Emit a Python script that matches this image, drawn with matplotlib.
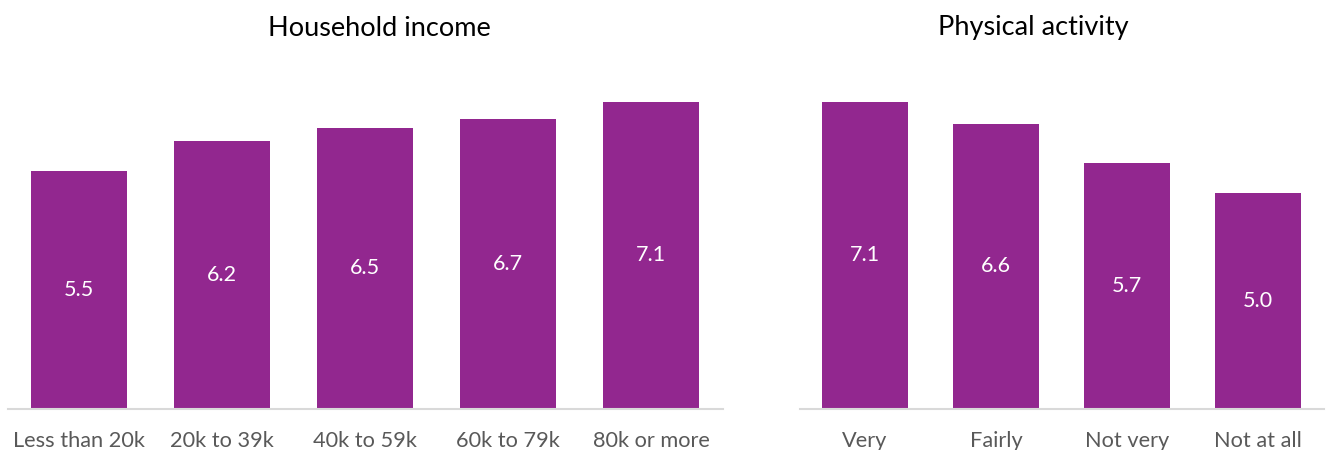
import matplotlib
matplotlib.use("Agg")
import matplotlib.pyplot as plt

income_cats = ["Less than 20k", "20k to 39k", "40k to 59k", "60k to 79k", "80k or more"]
income_vals = [5.5, 6.2, 6.5, 6.7, 7.1]
activity_cats = ["Very", "Fairly", "Not very", "Not at all"]
activity_vals = [7.1, 6.6, 5.7, 5.0]

plt.rcParams['font.family'] = ['Lato', 'DejaVu Sans']
W, H = 1327, 450
fig = plt.figure(figsize=(W/100, H/100), dpi=100)
purple = "#92278F"
grey = "#595959"

def make(ax_px, cats, vals, width):
    x0, x1 = ax_px
    top, base = 60, 409
    ax = fig.add_axes([x0/W, 1-base/H, (x1-x0)/W, (base-top)/H])
    xs = range(len(cats))
    bars = ax.bar(xs, vals, width=width, color=purple)
    for b, v in zip(bars, vals):
        ax.text(b.get_x()+b.get_width()/2, v/2, f"{v:.1f}", ha="center", va="center",
                color="white", fontsize=15.5)
    ax.set_xlim(-0.5, len(cats)-0.5)
    ax.set_ylim(0, (base-top)/43.24)
    ax.set_xticks(list(xs))
    ax.set_xticklabels(cats, fontsize=15.7, color=grey)
    ax.tick_params(axis='x', length=0, pad=16)
    ax.set_yticks([])
    for s in ["top", "right", "left"]:
        ax.spines[s].set_visible(False)
    ax.spines["bottom"].set_color("#D9D9D9")
    ax.spines["bottom"].set_linewidth(1.5)
    return ax

make((7.5, 722.5), income_cats, income_vals, 0.67)
make((799.5, 1323.5), activity_cats, activity_vals, 0.66)

fig.text(379.5/W, 1-28/H, "Household income", ha="center", va="center", fontsize=19.5, color="black")
fig.text(1033/W, 1-28/H, "Physical activity", ha="center", va="center", fontsize=19.5, color="black")

fig.savefig("out.png", dpi=100)
